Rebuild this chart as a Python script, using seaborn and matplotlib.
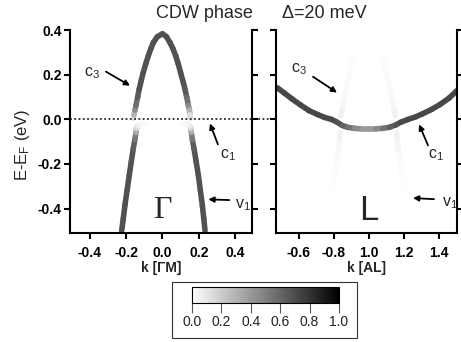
import numpy as np
import pandas as pd
import matplotlib
matplotlib.use("Agg")
import matplotlib.pyplot as plt
import seaborn as sns
from matplotlib.colors import Normalize, to_hex
from matplotlib.patches import Rectangle
from matplotlib.cm import ScalarMappable

# ---------------- data ----------------
# Gamma panel: upper band (c3), left->peak->right
k_gu = [-0.160, -0.157, -0.152, -0.146, -0.137, -0.128, -0.117, -0.106, -0.092, -0.078, -0.064, -0.050, -0.028,
        0.000, 0.022, 0.041, 0.058, 0.073, 0.087, 0.100, 0.112, 0.124, 0.134, 0.143, 0.149, 0.152, 0.155]
e_gu = [0.006, 0.021, 0.042, 0.063, 0.100, 0.137, 0.175, 0.211, 0.250, 0.286, 0.318, 0.346, 0.372,
        0.385, 0.372, 0.346, 0.318, 0.286, 0.250, 0.211, 0.175, 0.137, 0.100, 0.063, 0.042, 0.021, 0.006]
i_gu = [0.05, 0.20, 0.40, 0.52, 0.62] + [0.68] * 17 + [0.62, 0.52, 0.40, 0.20, 0.05]

# Gamma panel: lower band (v1), bottom -> gap
k_gl_left = [-0.225, -0.216, -0.207, -0.195, -0.183, -0.172, -0.161, -0.152, -0.146, -0.143, -0.137, -0.125, -0.108, -0.092]
k_gl_right = [0.235, 0.228, 0.220, 0.209, 0.198, 0.186, 0.174, 0.165, 0.159, 0.156, 0.150, 0.138, 0.121, 0.105]
e_gl = [-0.500, -0.445, -0.385, -0.318, -0.250, -0.190, -0.131, -0.090, -0.058, -0.040, -0.028, -0.021, -0.019, -0.020]
i_gl = [0.68, 0.68, 0.68, 0.68, 0.68, 0.68, 0.66, 0.60, 0.45, 0.22, 0.10, 0.05, 0.03, 0.015]

# L panel: c1 band
k_lc = [0.48, 0.52, 0.56, 0.61, 0.66, 0.71, 0.75, 0.79, 0.82, 0.85, 0.88, 0.92, 0.96, 1.00,
        1.04, 1.08, 1.12, 1.155, 1.185, 1.225, 1.27, 1.31, 1.36, 1.41, 1.46, 1.50, 1.53]
e_lc = [0.142, 0.118, 0.094, 0.066, 0.040, 0.022, 0.009, 0.000, -0.012, -0.027, -0.035, -0.040, -0.042, -0.042,
        -0.042, -0.040, -0.035, -0.025, -0.012, 0.000, 0.012, 0.026, 0.045, 0.068, 0.096, 0.125, 0.148]
i_lc = [0.72] * 8 + [0.70, 0.65, 0.60, 0.50, 0.42, 0.38, 0.42, 0.50, 0.60, 0.65, 0.70] + [0.72] * 8

# L panel: faint folded c3 band pieces
k_lfu_left = [0.905, 0.893, 0.880, 0.868, 0.857, 0.848, 0.842]
k_lfu_right = [1.085, 1.098, 1.112, 1.126, 1.138, 1.148, 1.154]
e_lfu = [0.270, 0.220, 0.170, 0.120, 0.075, 0.040, 0.018]
i_lfu = [0.010, 0.015, 0.020, 0.025, 0.030, 0.045, 0.070]

k_lfl_left = [0.838, 0.833, 0.826, 0.817, 0.808, 0.798]
k_lfl_right = [1.160, 1.166, 1.174, 1.184, 1.193, 1.203]
e_lfl = [-0.060, -0.100, -0.150, -0.200, -0.250, -0.300]
i_lfl = [0.065, 0.045, 0.032, 0.022, 0.014, 0.008]

yticks = [-0.4, -0.2, 0.0, 0.2, 0.4]
ytick_labels = ["-0.4", "-0.2", "0.0", "0.2", "0.4"]
xticks_g = [-0.4, -0.2, 0.0, 0.2, 0.4]
xtick_labels_g = ["-0.4", "-0.2", "0.0", "0.2", "0.4"]
xticks_l = [0.6, 0.8, 1.0, 1.2, 1.4]
xtick_labels_l = ["-0.6", "-0.8", "1.0", "1.2", "1.4"]
cbar_ticks = [0.0, 0.2, 0.4, 0.6, 0.8, 1.0]
cbar_labels = ["0.0", "0.2", "0.4", "0.6", "0.8", "1.0"]

# ---------------- style ----------------
sns.set_theme(style="ticks")
plt.rcParams["font.family"] = ["Liberation Sans", "DejaVu Sans"]
plt.rcParams.update({
    "axes.linewidth": 1.5,
    "axes.edgecolor": "black",
    "xtick.color": "black",
    "ytick.color": "black",
    "xtick.major.width": 1.5,
    "ytick.major.width": 1.5,
    "xtick.major.size": 4.5,
    "ytick.major.size": 4.5,
    "xtick.direction": "out",
    "ytick.direction": "out",
    "axes.unicode_minus": False,
    "mathtext.fontset": "custom",
    "mathtext.rm": "Liberation Sans",
    "mathtext.it": "Liberation Sans:italic",
    "mathtext.bf": "Liberation Sans:bold",
})

cmap = plt.get_cmap("gray_r")
norm = Normalize(0, 1)

W, H = 461, 342
fig = plt.figure(figsize=(W / 100, H / 100), dpi=100)
ax1 = fig.add_axes([70 / W, 1 - 233 / H, 182 / W, 203 / H])
ax2 = fig.add_axes([276 / W, 1 - 233 / H, 181 / W, 203 / H])

LW = 4.0


def draw_branch(ax, name, k, e, inten):
    rows = []
    pal = {}
    for i in range(len(k) - 1):
        sid = f"{name}{i}"
        rows.append((sid, k[i], e[i]))
        rows.append((sid, k[i + 1], e[i + 1]))
        pal[sid] = to_hex(cmap(norm((inten[i] + inten[i + 1]) / 2)))
    df = pd.DataFrame(rows, columns=["seg", "k", "E"])
    sns.lineplot(data=df, x="k", y="E", hue="seg", palette=pal, estimator=None,
                 sort=False, legend=False, lw=LW, solid_capstyle="round", ax=ax)


draw_branch(ax1, "gll", k_gl_left, e_gl, i_gl)
draw_branch(ax1, "glr", k_gl_right, e_gl, i_gl)
draw_branch(ax1, "gu", k_gu, e_gu, i_gu)

draw_branch(ax2, "lful", k_lfu_left, e_lfu, i_lfu)
draw_branch(ax2, "lfur", k_lfu_right, e_lfu, i_lfu)
draw_branch(ax2, "lfll", k_lfl_left, e_lfl, i_lfl)
draw_branch(ax2, "lflr", k_lfl_right, e_lfl, i_lfl)
draw_branch(ax2, "lc", k_lc, e_lc, i_lc)

for ax in (ax1, ax2):
    ax.set_ylim(-0.51, 0.402)
    ax.spines["top"].set_visible(False)
    ax.set_yticks(yticks)
    ax.tick_params(axis="y", left=True, right=True, labelright=False, pad=1.5)
    ax.tick_params(axis="x", bottom=True, top=False, pad=5)
    ax.set_ylabel("")

ax1.set_xlim(-0.51, 0.494)
ax2.set_xlim(0.4714, 1.5057)
ax1.set_xticks(xticks_g)
ax1.set_xticklabels(xtick_labels_g, fontweight="bold", fontsize=10)
ax2.set_xticks(xticks_l)
ax2.set_xticklabels(xtick_labels_l, fontweight="bold", fontsize=10)
ax1.set_yticklabels(ytick_labels, fontweight="bold", fontsize=10)
ax2.tick_params(axis="y", labelleft=False)

ax1.set_xlabel("k [ΓM]", fontweight="bold", fontsize=10, labelpad=0.5)
ax2.set_xlabel("k [AL]", fontweight="bold", fontsize=10, labelpad=0.5)

# dotted Fermi level across both panels
ax1.plot([0, (457 - 70) / 182], [0, 0], transform=ax1.get_yaxis_transform(), clip_on=False,
         color="black", lw=1.1, ls=(0, (1.2, 1.6)), zorder=5)

# panel letters
ax1.text(0.0, -0.411, "Γ", family=["Liberation Serif", "DejaVu Serif"], fontsize=23,
         ha="center", va="center")
ax2.text(1.0, -0.411, "L", fontsize=25, ha="center", va="center")

# annotations
arrow = dict(arrowstyle="-|>", color="black", lw=1.3, mutation_scale=8, shrinkA=0, shrinkB=0)


def label(ax, txt, pos, start, end):
    ax.text(pos[0], pos[1], txt, fontsize=11.5, ha="center", va="center")
    ax.annotate("", xy=end, xytext=start, arrowprops=arrow)


label(ax1, r"c$_3$", (-0.389, 0.21), (-0.312, 0.215), (-0.179, 0.152))
label(ax1, r"c$_1$", (0.362, -0.161), (0.306, -0.112), (0.262, -0.018))
label(ax1, r"v$_1$", (0.444, -0.384), (0.369, -0.362), (0.253, -0.359))
label(ax2, r"c$_3$", (0.603, 0.224), (0.683, 0.192), (0.820, 0.121))
label(ax2, r"c$_1$", (1.386, -0.161), (1.340, -0.116), (1.289, -0.022))
label(ax2, r"v$_1$", (1.466, -0.375), (1.374, -0.358), (1.254, -0.353))

# titles and y label
fig.text(204.5 / W, 1 - 13 / H, "CDW phase", fontsize=13, ha="center", va="center")
fig.text(324 / W, 1 - 13 / H, "Δ=20 meV", fontsize=13, ha="center", va="center")
fig.text(22 / W, 1 - 145 / H, r"E-E$_\mathrm{F}$ (eV)", fontsize=12, rotation=90,
         ha="center", va="center")

# colorbar with frame
cax = fig.add_axes([192 / W, 1 - 303 / H, 147 / W, 16 / H])
sm = ScalarMappable(norm=norm, cmap=cmap)
cb = fig.colorbar(sm, cax=cax, orientation="horizontal", ticks=cbar_ticks)
cb.set_ticklabels(cbar_labels)
cb.ax.tick_params(length=7, width=0.8, color="#555555", labelsize=10, pad=2, labelcolor="#222222")
cb.outline.set_linewidth(0.8)
fig.patches.append(Rectangle((172 / W, 1 - 338 / H), 185 / W, 56 / H, transform=fig.transFigure,
                             fill=False, ec="#333333", lw=0.8))

fig.savefig("out.png", dpi=100)
